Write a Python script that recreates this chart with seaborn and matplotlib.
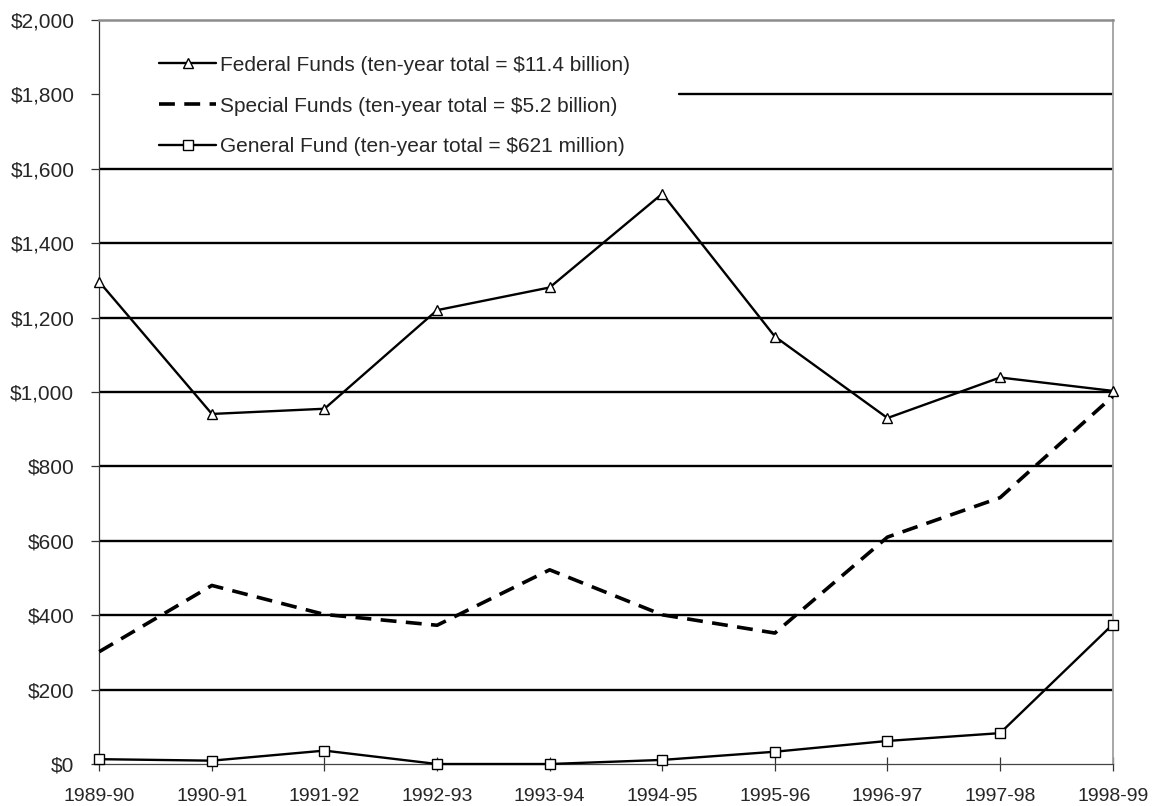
import numpy as np
import pandas as pd
import matplotlib
matplotlib.use("Agg")
import matplotlib.pyplot as plt
import seaborn as sns
from matplotlib.ticker import StrMethodFormatter

# values ($ millions)
years = ["1989-90", "1990-91", "1991-92", "1992-93", "1993-94",
         "1994-95", "1995-96", "1996-97", "1997-98", "1998-99"]
federal = [1296, 941, 955, 1220, 1281, 1533, 1149, 930, 1039, 1003]
special = [302, 480, 402, 373, 522, 401, 352, 610, 716, 988]
general = [13, 9, 36, 0, 0, 11, 33, 62, 83, 375]

lbl_fed = "Federal Funds (ten-year total = $11.4 billion)"
lbl_spec = "Special Funds (ten-year total = $5.2 billion)"
lbl_gen = "General Fund (ten-year total = $621 million)"

sns.set_style("white")
plt.rcParams["font.family"] = ["Liberation Sans", "DejaVu Sans"]

df = pd.DataFrame({"pos": np.arange(len(years)),
                   "federal": federal, "special": special, "general": general})

fig = plt.figure(figsize=(11.6, 8.06), dpi=100)
ax = fig.add_axes([0.0856, 0.0521, 0.8736, 0.9231])

mk = dict(markersize=7, markerfacecolor="white", markeredgecolor="black",
          markeredgewidth=1.0, clip_on=False, zorder=4)
sns.lineplot(data=df, x="pos", y="federal", ax=ax, color="black", lw=1.7,
             marker="^", label=lbl_fed, **mk)
sns.lineplot(data=df, x="pos", y="special", ax=ax, color="black", lw=2.6,
             label=lbl_spec, clip_on=False, zorder=3)
ax.lines[-1].set_dashes([4.4, 2.6])
sns.lineplot(data=df, x="pos", y="general", ax=ax, color="black", lw=1.7,
             marker="s", label=lbl_gen, **mk)

ax.set_xlim(0, len(years) - 1)
ax.set_ylim(0, 2000)
ax.set_xticks(df["pos"])
ax.set_xticklabels(years)
ax.set_yticks(np.arange(0, 2001, 200))
ax.yaxis.set_major_formatter(StrMethodFormatter("${x:,.0f}"))
ax.set_xlabel("")
ax.set_ylabel("")

# horizontal gridlines; the $1,800 one is hidden behind the legend box on the left
for v in range(200, 2000, 200):
    start = 0.572 if v == 1800 else 0.0
    ax.axhline(v, xmin=start, color="black", lw=1.7, zorder=0.5)

ax.spines["top"].set_color("#8c8c8c")
ax.spines["top"].set_linewidth(1.8)
ax.spines["right"].set_color("#a0a0a0")
ax.spines["right"].set_linewidth(1.3)
ax.spines["left"].set_color("#333333")
ax.spines["left"].set_linewidth(0.9)
ax.spines["bottom"].set_color("#444444")
ax.spines["bottom"].set_linewidth(0.9)

ax.tick_params(axis="y", which="major", left=True, length=6, width=0.9,
               color="#333333", labelsize=15, pad=12)
ax.tick_params(axis="x", which="major", bottom=True, direction="inout",
               length=10, width=0.9, color="#333333", labelsize=14, pad=12)

leg = ax.legend(loc="upper left", bbox_to_anchor=(0.059, 0.952),
                frameon=False, fontsize=15, handlelength=2.74,
                handletextpad=0.2, labelspacing=1.05, borderpad=0,
                borderaxespad=0)
leg.set_zorder(5)

fig.savefig("out.png", dpi=100)
